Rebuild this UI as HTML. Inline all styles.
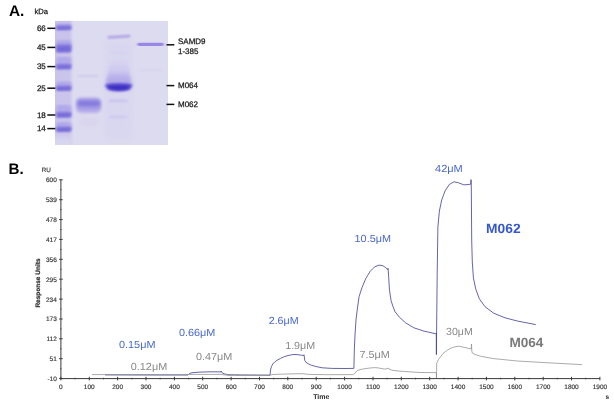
<!DOCTYPE html>
<html><head><meta charset="utf-8"><title>Figure</title>
<style>
html,body{margin:0;padding:0;background:#fff;}
body{width:614px;height:405px;overflow:hidden;position:relative;}
svg{position:absolute;left:0;top:0;display:block;}
text{font-family:"Liberation Sans",sans-serif;text-rendering:geometricPrecision;}
.ax{fill:#333;font-size:6.5px;stroke:#333;stroke-width:0.15px;}
.gl{fill:#1a1a1a;font-size:8px;stroke:#1a1a1a;stroke-width:0.25px;}
.cb{fill:#4a69c8;font-size:10.3px;}
.cg{fill:#888888;font-size:10.3px;}
</style></head><body>
<svg width="614" height="405" viewBox="0 0 614 405">
<defs>
<filter id="b1" x="-20%" y="-50%" width="140%" height="200%"><feGaussianBlur stdDeviation="1.2 0.9"/></filter>
<filter id="b2" x="-20%" y="-50%" width="140%" height="200%"><feGaussianBlur stdDeviation="1.6 1.3"/></filter>
<filter id="b3" x="-20%" y="-50%" width="140%" height="200%"><feGaussianBlur stdDeviation="2.5 2.5"/></filter>
<filter id="b1b" x="-20%" y="-80%" width="140%" height="260%"><feGaussianBlur stdDeviation="1.3 1.3"/></filter>
<filter id="b2b" x="-30%" y="-80%" width="160%" height="260%"><feGaussianBlur stdDeviation="1.8 1.8"/></filter>
<filter id="b0" x="-20%" y="-50%" width="140%" height="200%"><feGaussianBlur stdDeviation="0.8 0.6"/></filter>
<filter id="soft"><feGaussianBlur stdDeviation="0.35"/></filter>
<clipPath id="gelclip"><rect x="55" y="20.7" width="113" height="124.3"/></clipPath>
<linearGradient id="smg" x1="0" y1="0" x2="0" y2="1"><stop offset="0" stop-color="#c4bded" stop-opacity="0"/><stop offset="0.5" stop-color="#c0b8ec" stop-opacity="0.55"/><stop offset="1" stop-color="#a79de7" stop-opacity="0.95"/></linearGradient>
<linearGradient id="laneg" x1="0" y1="0" x2="0" y2="1"><stop offset="0" stop-color="#c9c3ec"/><stop offset="0.9" stop-color="#cbc5ec"/><stop offset="0.96" stop-color="#d6d3ee"/><stop offset="1" stop-color="#d9d6ee"/></linearGradient>
</defs>
<rect width="614" height="405" fill="#ffffff"/>

<text x="9" y="16.1" font-size="15.4" font-weight="bold" fill="#000">A.</text>
<text class="gl" x="34.4" y="14.2" font-size="7.6" style="font-size:7.6px">kDa</text>
<g clip-path="url(#gelclip)">
<rect x="55" y="20.7" width="113.3" height="125" fill="#dddbef"/>
<rect x="55" y="20.7" width="16.7" height="124.3" fill="url(#laneg)"/>
<rect x="70.4" y="18" width="2.8" height="130" fill="#d5d1ef" opacity="0.8" filter="url(#b0)"/>
<rect x="56" y="23.5" width="15.4" height="5.2" rx="2" fill="#a9a0e8" opacity="0.75" filter="url(#b2)"/>
<rect x="55.8" y="25.2" width="15.8" height="5.0" rx="2" fill="#8d82e0" opacity="0.95" filter="url(#b1b)"/>
<rect x="57.2" y="26.7" width="13" height="2.5" rx="1" fill="#6a5dd5" opacity="0.7" filter="url(#b1)" transform="rotate(-2 63.5 27.7)"/>
<rect x="56" y="40.0" width="15.4" height="9.4" rx="2" fill="#a9a0e8" opacity="0.75" filter="url(#b2)"/>
<rect x="55.8" y="44.1" width="15.8" height="8.6" rx="2" fill="#8d82e0" opacity="0.95" filter="url(#b1b)"/>
<rect x="57.2" y="46.3" width="13" height="5.2" rx="1" fill="#6a5dd5" opacity="0.7" filter="url(#b1)" transform="rotate(-2 63.5 48.4)"/>
<rect x="56" y="57.0" width="15.4" height="10.6" rx="2" fill="#a9a0e8" opacity="0.75" filter="url(#b2)"/>
<rect x="55.8" y="63.8" width="15.8" height="5.6" rx="2" fill="#8d82e0" opacity="0.95" filter="url(#b1b)"/>
<rect x="57.2" y="65.4" width="13" height="3.0" rx="1" fill="#6a5dd5" opacity="0.7" filter="url(#b1)" transform="rotate(-2 63.5 66.6)"/>
<rect x="56" y="81.5" width="15.4" height="7.7" rx="2" fill="#a9a0e8" opacity="0.75" filter="url(#b2)"/>
<rect x="55.8" y="85.4" width="15.8" height="5.6" rx="2" fill="#8d82e0" opacity="0.95" filter="url(#b1b)"/>
<rect x="57.2" y="87.0" width="13" height="3.0" rx="1" fill="#6a5dd5" opacity="0.7" filter="url(#b1)" transform="rotate(-2 63.5 88.2)"/>
<rect x="56" y="105.0" width="15.4" height="10.7" rx="2" fill="#a9a0e8" opacity="0.75" filter="url(#b2)"/>
<rect x="55.8" y="111.7" width="15.8" height="6.0" rx="2" fill="#8d82e0" opacity="0.95" filter="url(#b1b)"/>
<rect x="57.2" y="113.4" width="13" height="3.3" rx="1" fill="#6a5dd5" opacity="0.7" filter="url(#b1)" transform="rotate(-2 63.5 114.7)"/>
<rect x="56" y="122.0" width="15.4" height="8.2" rx="2" fill="#a9a0e8" opacity="0.75" filter="url(#b2)"/>
<rect x="55.8" y="126.4" width="15.8" height="5.6" rx="2" fill="#8d82e0" opacity="0.95" filter="url(#b1b)"/>
<rect x="57.2" y="128.0" width="13" height="3.0" rx="1" fill="#6a5dd5" opacity="0.7" filter="url(#b1)" transform="rotate(-2 63.5 129.2)"/>
<rect x="76" y="97.8" width="25.2" height="15" rx="5" fill="#aca3e8" opacity="0.9" filter="url(#b2b)"/>
<rect x="77" y="99.5" width="23.5" height="8.5" rx="4" fill="#9389e2" opacity="0.85" filter="url(#b2b)"/>
<rect x="78.5" y="101.6" width="20.5" height="3.6" rx="1.8" fill="#7f73dc" opacity="0.75" filter="url(#b2)"/>
<rect x="78" y="75.3" width="20" height="1.6" fill="#c3bcec" opacity="0.7" filter="url(#b1)"/>
<rect x="80" y="118" width="18" height="8" fill="#d9d1ee" opacity="0.7" filter="url(#b3)"/>
<rect x="105.5" y="42" width="26" height="96" fill="#d6d2f1" opacity="0.55" filter="url(#b3)"/>
<path d="M110 59 L127.5 59 L131.5 86 L106 86Z" fill="url(#smg)" filter="url(#b2)"/>
<rect x="106.5" y="75" width="24.5" height="11" rx="5" fill="#b0a7e9" opacity="0.6" filter="url(#b3)"/>
<path d="M105.5 84.2 Q118.7 81.6 132 84.2 Q132.5 88.5 128 90.6 Q118.7 92.6 109.5 90.6 Q105 88.5 105.5 84.2Z" fill="#6456d4" filter="url(#b2)"/>
<path d="M107.5 86 Q118.7 84.6 130 86 Q129 88.8 124 89.6 Q118.7 90.2 113.5 89.6 Q108.5 88.8 107.5 86Z" fill="#3c2dc3" filter="url(#b1)"/>
<rect x="107.5" y="35.4" width="23" height="2.5" rx="1.2" fill="#a995e7" opacity="0.9" filter="url(#b1)" transform="rotate(-3.5 119 36.6)"/>
<rect x="109" y="99.6" width="18.5" height="2.4" fill="#c5bdec" opacity="0.8" filter="url(#b1)"/>
<rect x="109" y="115.8" width="18.5" height="2.4" fill="#cbc4ee" opacity="0.8" filter="url(#b1)"/>
<rect x="110" y="52" width="18" height="1.6" fill="#d3cbef" opacity="0.8" filter="url(#b1)"/>
<rect x="137.3" y="42.8" width="26.5" height="3.2" rx="1.4" fill="#9a86e6" filter="url(#b0)"/>
<rect x="140" y="69.5" width="22" height="1.6" fill="#d2ccf0" opacity="0.8" filter="url(#b1)"/>
</g>
<text class="gl" x="36.9" y="31.0">66</text>
<rect x="47.3" y="27.55" width="8" height="1.5" fill="#111"/>
<text class="gl" x="36.9" y="50.1">45</text>
<rect x="47.3" y="46.65" width="8" height="1.5" fill="#111"/>
<text class="gl" x="36.9" y="69.3">35</text>
<rect x="47.3" y="65.85" width="8" height="1.5" fill="#111"/>
<text class="gl" x="36.9" y="90.9">25</text>
<rect x="47.3" y="87.45" width="8" height="1.5" fill="#111"/>
<text class="gl" x="36.9" y="117.7">18</text>
<rect x="47.3" y="114.25" width="8" height="1.5" fill="#111"/>
<text class="gl" x="36.9" y="131.3">14</text>
<rect x="47.3" y="127.85" width="8" height="1.5" fill="#111"/>
<rect x="166.5" y="44.05" width="7.8" height="1.5" fill="#111"/>
<rect x="166.5" y="84.85" width="7.8" height="1.5" fill="#111"/>
<rect x="166.5" y="103.65" width="7.8" height="1.5" fill="#111"/>
<text class="gl" x="178" y="44">SAMD9</text>
<text class="gl" x="178" y="53.6">1-385</text>
<text class="gl" x="178" y="88.1">M064</text>
<text class="gl" x="178" y="106.9">M062</text>
<text x="8.5" y="174" font-size="15.2" font-weight="bold" fill="#000">B.</text>
<text class="ax" x="41.8" y="171.9" style="font-size:6.3px">RU</text>
<g stroke="#3a3a3a" stroke-width="1" fill="none" shape-rendering="auto">
<line x1="60.9" y1="179.8" x2="60.9" y2="378.6"/>
<line x1="60.9" y1="378.6" x2="599.9" y2="378.6"/>
<line x1="59.1" y1="179.8" x2="62.699999999999996" y2="179.8"/>
<line x1="60.0" y1="189.7" x2="61.8" y2="189.7" stroke-opacity="0.6"/>
<line x1="59.1" y1="199.7" x2="62.699999999999996" y2="199.7"/>
<line x1="60.0" y1="209.6" x2="61.8" y2="209.6" stroke-opacity="0.6"/>
<line x1="59.1" y1="219.6" x2="62.699999999999996" y2="219.6"/>
<line x1="60.0" y1="229.5" x2="61.8" y2="229.5" stroke-opacity="0.6"/>
<line x1="59.1" y1="239.4" x2="62.699999999999996" y2="239.4"/>
<line x1="60.0" y1="249.4" x2="61.8" y2="249.4" stroke-opacity="0.6"/>
<line x1="59.1" y1="259.3" x2="62.699999999999996" y2="259.3"/>
<line x1="60.0" y1="269.3" x2="61.8" y2="269.3" stroke-opacity="0.6"/>
<line x1="59.1" y1="279.2" x2="62.699999999999996" y2="279.2"/>
<line x1="60.0" y1="289.1" x2="61.8" y2="289.1" stroke-opacity="0.6"/>
<line x1="59.1" y1="299.1" x2="62.699999999999996" y2="299.1"/>
<line x1="60.0" y1="309.0" x2="61.8" y2="309.0" stroke-opacity="0.6"/>
<line x1="59.1" y1="319.0" x2="62.699999999999996" y2="319.0"/>
<line x1="60.0" y1="328.9" x2="61.8" y2="328.9" stroke-opacity="0.6"/>
<line x1="59.1" y1="338.8" x2="62.699999999999996" y2="338.8"/>
<line x1="60.0" y1="348.8" x2="61.8" y2="348.8" stroke-opacity="0.6"/>
<line x1="59.1" y1="358.7" x2="62.699999999999996" y2="358.7"/>
<line x1="60.0" y1="368.7" x2="61.8" y2="368.7" stroke-opacity="0.6"/>
<line x1="59.1" y1="378.6" x2="62.699999999999996" y2="378.6"/>
<line x1="60.9" y1="376.8" x2="60.9" y2="380.40000000000003"/>
<line x1="75.1" y1="377.70000000000005" x2="75.1" y2="379.5" stroke-opacity="0.6"/>
<line x1="89.3" y1="376.8" x2="89.3" y2="380.40000000000003"/>
<line x1="103.5" y1="377.70000000000005" x2="103.5" y2="379.5" stroke-opacity="0.6"/>
<line x1="117.6" y1="376.8" x2="117.6" y2="380.40000000000003"/>
<line x1="131.8" y1="377.70000000000005" x2="131.8" y2="379.5" stroke-opacity="0.6"/>
<line x1="146.0" y1="376.8" x2="146.0" y2="380.40000000000003"/>
<line x1="160.2" y1="377.70000000000005" x2="160.2" y2="379.5" stroke-opacity="0.6"/>
<line x1="174.4" y1="376.8" x2="174.4" y2="380.40000000000003"/>
<line x1="188.6" y1="377.70000000000005" x2="188.6" y2="379.5" stroke-opacity="0.6"/>
<line x1="202.7" y1="376.8" x2="202.7" y2="380.40000000000003"/>
<line x1="216.9" y1="377.70000000000005" x2="216.9" y2="379.5" stroke-opacity="0.6"/>
<line x1="231.1" y1="376.8" x2="231.1" y2="380.40000000000003"/>
<line x1="245.3" y1="377.70000000000005" x2="245.3" y2="379.5" stroke-opacity="0.6"/>
<line x1="259.5" y1="376.8" x2="259.5" y2="380.40000000000003"/>
<line x1="273.7" y1="377.70000000000005" x2="273.7" y2="379.5" stroke-opacity="0.6"/>
<line x1="287.8" y1="376.8" x2="287.8" y2="380.40000000000003"/>
<line x1="302.0" y1="377.70000000000005" x2="302.0" y2="379.5" stroke-opacity="0.6"/>
<line x1="316.2" y1="376.8" x2="316.2" y2="380.40000000000003"/>
<line x1="330.4" y1="377.70000000000005" x2="330.4" y2="379.5" stroke-opacity="0.6"/>
<line x1="344.6" y1="376.8" x2="344.6" y2="380.40000000000003"/>
<line x1="358.8" y1="377.70000000000005" x2="358.8" y2="379.5" stroke-opacity="0.6"/>
<line x1="373.0" y1="376.8" x2="373.0" y2="380.40000000000003"/>
<line x1="387.1" y1="377.70000000000005" x2="387.1" y2="379.5" stroke-opacity="0.6"/>
<line x1="401.3" y1="376.8" x2="401.3" y2="380.40000000000003"/>
<line x1="415.5" y1="377.70000000000005" x2="415.5" y2="379.5" stroke-opacity="0.6"/>
<line x1="429.7" y1="376.8" x2="429.7" y2="380.40000000000003"/>
<line x1="443.9" y1="377.70000000000005" x2="443.9" y2="379.5" stroke-opacity="0.6"/>
<line x1="458.1" y1="376.8" x2="458.1" y2="380.40000000000003"/>
<line x1="472.2" y1="377.70000000000005" x2="472.2" y2="379.5" stroke-opacity="0.6"/>
<line x1="486.4" y1="376.8" x2="486.4" y2="380.40000000000003"/>
<line x1="500.6" y1="377.70000000000005" x2="500.6" y2="379.5" stroke-opacity="0.6"/>
<line x1="514.8" y1="376.8" x2="514.8" y2="380.40000000000003"/>
<line x1="529.0" y1="377.70000000000005" x2="529.0" y2="379.5" stroke-opacity="0.6"/>
<line x1="543.2" y1="376.8" x2="543.2" y2="380.40000000000003"/>
<line x1="557.3" y1="377.70000000000005" x2="557.3" y2="379.5" stroke-opacity="0.6"/>
<line x1="571.5" y1="376.8" x2="571.5" y2="380.40000000000003"/>
<line x1="585.7" y1="377.70000000000005" x2="585.7" y2="379.5" stroke-opacity="0.6"/>
<line x1="599.9" y1="376.8" x2="599.9" y2="380.40000000000003"/>
</g>
<text class="ax" x="56.8" y="182.2" text-anchor="end">600</text>
<text class="ax" x="56.8" y="202.1" text-anchor="end">539</text>
<text class="ax" x="56.8" y="222.0" text-anchor="end">478</text>
<text class="ax" x="56.8" y="241.8" text-anchor="end">417</text>
<text class="ax" x="56.8" y="261.7" text-anchor="end">356</text>
<text class="ax" x="56.8" y="281.6" text-anchor="end">295</text>
<text class="ax" x="56.8" y="301.5" text-anchor="end">234</text>
<text class="ax" x="56.8" y="321.4" text-anchor="end">173</text>
<text class="ax" x="56.8" y="341.2" text-anchor="end">112</text>
<text class="ax" x="56.8" y="361.1" text-anchor="end">51</text>
<text class="ax" x="56.8" y="381.0" text-anchor="end">-10</text>
<text class="ax" x="60.9" y="388.8" text-anchor="middle">0</text>
<text class="ax" x="89.3" y="388.8" text-anchor="middle">100</text>
<text class="ax" x="117.6" y="388.8" text-anchor="middle">200</text>
<text class="ax" x="146.0" y="388.8" text-anchor="middle">300</text>
<text class="ax" x="174.4" y="388.8" text-anchor="middle">400</text>
<text class="ax" x="202.7" y="388.8" text-anchor="middle">500</text>
<text class="ax" x="231.1" y="388.8" text-anchor="middle">600</text>
<text class="ax" x="259.5" y="388.8" text-anchor="middle">700</text>
<text class="ax" x="287.8" y="388.8" text-anchor="middle">800</text>
<text class="ax" x="316.2" y="388.8" text-anchor="middle">900</text>
<text class="ax" x="344.6" y="388.8" text-anchor="middle">1000</text>
<text class="ax" x="373.0" y="388.8" text-anchor="middle">1100</text>
<text class="ax" x="401.3" y="388.8" text-anchor="middle">1200</text>
<text class="ax" x="429.7" y="388.8" text-anchor="middle">1300</text>
<text class="ax" x="458.1" y="388.8" text-anchor="middle">1400</text>
<text class="ax" x="486.4" y="388.8" text-anchor="middle">1500</text>
<text class="ax" x="514.8" y="388.8" text-anchor="middle">1600</text>
<text class="ax" x="543.2" y="388.8" text-anchor="middle">1700</text>
<text class="ax" x="571.5" y="388.8" text-anchor="middle">1800</text>
<text class="ax" x="599.9" y="388.8" text-anchor="middle">1900</text>
<text x="313.2" y="399.4" font-size="7" font-weight="bold" fill="#2a2a2a">Time</text>
<text x="605.5" y="399.4" font-size="6.5" font-weight="bold" fill="#2a2a2a">s</text>
<text transform="translate(40.1,307.6) rotate(-90)" font-size="6.5" font-weight="bold" fill="#2a2a2a" stroke="#2a2a2a" stroke-width="0.2">Response Units</text>
<polyline points="105.0,374.9 150.0,375.0 188.0,375.0 188.6,374.4 190.0,373.3 193.0,372.6 200.0,372.1 210.0,371.8 221.0,371.9 221.3,371.2 221.8,372.6 224.0,373.8 228.0,374.6 240.0,375.0 260.0,375.2 270.0,375.3 270.5,370.0 271.4,366.7 272.8,364.0 274.8,361.9 277.5,360.0 280.3,358.5 283.5,357.0 287.0,355.8 290.5,355.0 293.9,354.5 297.0,354.6 300.6,355.1 303.7,355.5 304.0,354.8 304.2,356.0 304.8,360.6 306.0,362.3 308.6,364.0 311.5,365.3 315.4,366.4 322.2,367.8 331.7,368.4 345.0,368.5 353.6,368.4 353.9,368.4 354.3,350.0 355.0,335.0 356.0,320.0 356.6,315.0 357.6,306.9 359.1,296.5 362.0,287.6 365.7,278.7 370.2,271.3 374.6,266.9 379.1,265.1 382.8,265.7 385.7,267.6 387.8,269.6 388.0,268.3 388.2,270.0 388.7,277.2 389.4,289.1 390.2,295.0 391.1,300.6 392.8,306.1 395.0,311.7 399.4,317.2 405.6,322.8 413.9,327.8 423.9,331.1 436.3,333.9 436.3,333.6 436.4,354.6 436.6,330.0 437.2,273.0 437.9,226.7 439.4,211.0 441.7,200.0 445.0,191.0 449.4,184.4 453.9,181.8 458.3,182.7 463.9,184.9 469.4,184.4 470.8,184.2 471.0,179.6 471.3,186.0 471.7,240.0 472.3,262.0 473.4,277.8 475.7,288.9 479.4,298.9 485.0,306.7 493.9,313.3 505.0,317.8 517.3,321.0 535.8,324.6" fill="none" stroke="#3e3e92" stroke-width="0.8" stroke-linejoin="round"/>
<polyline points="92.0,374.6 188.0,374.6 190.0,374.4 221.0,374.4 225.0,375.0 240.0,375.1 270.0,375.2 272.0,374.6 280.0,374.2 295.0,373.8 304.0,373.7 306.0,374.2 312.0,374.5 330.0,374.7 353.5,374.6 354.5,373.8 357.0,370.8 360.0,369.6 363.5,368.9 370.0,368.0 375.2,367.6 380.0,368.2 384.3,369.1 387.5,368.6 388.2,367.9 389.0,369.0 392.0,370.2 398.0,371.0 405.0,371.5 420.0,372.5 436.3,372.6 436.5,378.0 436.7,363.0 438.5,359.5 440.4,357.0 443.0,353.5 446.5,350.8 450.0,348.5 454.2,347.0 458.8,346.2 465.0,347.5 471.2,349.0 471.5,344.0 471.8,351.0 472.3,353.0 475.0,354.5 480.4,356.2 492.7,358.5 517.3,361.0 548.0,362.8 582.0,364.6" fill="none" stroke="#8f8f8f" stroke-width="0.75" stroke-linejoin="round"/>
<line x1="227" y1="375.15" x2="269.6" y2="375.25" stroke="#9b9ba6" stroke-width="1.1" stroke-dasharray="7 1.2"/>
<text class="cb" x="119" y="348" textLength="36.5" lengthAdjust="spacingAndGlyphs">0.15μM</text>
<text class="cb" x="179" y="335.6" textLength="36.4" lengthAdjust="spacingAndGlyphs">0.66μM</text>
<text class="cb" x="268.7" y="324.1" textLength="30" lengthAdjust="spacingAndGlyphs">2.6μM</text>
<text class="cb" x="354.6" y="241.9" textLength="36.4" lengthAdjust="spacingAndGlyphs">10.5μM</text>
<text class="cb" x="435" y="171.5" textLength="27.8" lengthAdjust="spacingAndGlyphs">42μM</text>
<text class="cg" x="130.8" y="370.3" textLength="36.4" lengthAdjust="spacingAndGlyphs">0.12μM</text>
<text class="cg" x="196" y="359.6" textLength="36.4" lengthAdjust="spacingAndGlyphs">0.47μM</text>
<text class="cg" x="285.2" y="348.8" textLength="30" lengthAdjust="spacingAndGlyphs">1.9μM</text>
<text class="cg" x="359.5" y="357.8" textLength="30.3" lengthAdjust="spacingAndGlyphs">7.5μM</text>
<text class="cg" x="446" y="335.4" textLength="26.7" lengthAdjust="spacingAndGlyphs">30μM</text>
<text x="486.1" y="233.2" font-size="13.4" font-weight="bold" fill="#3558cf" textLength="34.5" lengthAdjust="spacingAndGlyphs">M062</text>
<text x="509.4" y="347.1" font-size="13.4" font-weight="bold" fill="#7a7a7a" textLength="34" lengthAdjust="spacingAndGlyphs">M064</text>
</svg></body></html>
